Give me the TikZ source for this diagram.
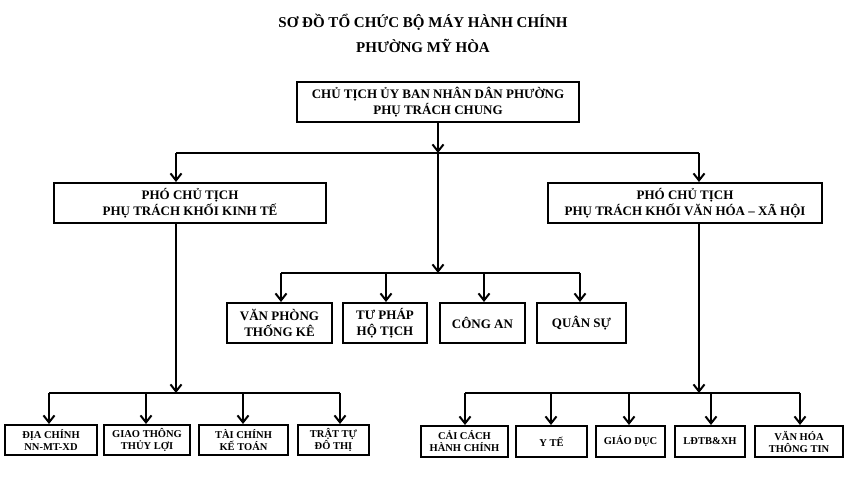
\documentclass[tikz,border=0pt]{standalone}
\usepackage{fontspec}
\setmainfont{Liberation Serif}
\usetikzlibrary{arrows.meta}
\tikzset{
  box/.style={draw, line width=2pt, inner sep=0pt, align=center, font=\bfseries\fontsize{13}{16.5}\selectfont},
  sbox/.style={draw, line width=2pt, inner sep=0pt, align=center, font=\bfseries\fontsize{10.5}{12}\selectfont},
  ttl/.style={inner sep=0pt, font=\bfseries\fontsize{15}{18}\selectfont},
  conn/.style={line width=2pt},
  arr/.style={line width=2pt, -{Straight Barb[length=7pt,width=11pt]}},
}
\begin{document}
\begin{tikzpicture}[x=1pt,y=-1pt]
\useasboundingbox (0,0) rectangle (846,488);
% titles
\node[ttl] (t1) at (423,22) {SƠ ĐỒ TỔ CHỨC BỘ MÁY HÀNH CHÍNH};
\node[ttl] (t2) at (423,46) {PHƯỜNG MỸ HÒA};
% top
\node[box, minimum width=282pt, minimum height=40pt] (top) at (438,102) {CHỦ TỊCH ỦY BAN NHÂN DÂN PHƯỜNG\\PHỤ TRÁCH CHUNG};
% vice chairs
\node[box, minimum width=272pt, minimum height=40pt] (pl) at (190,203) {PHÓ CHỦ TỊCH\\PHỤ TRÁCH KHỐI KINH TẾ};
\node[box, minimum width=274pt, minimum height=40pt] (pr) at (685,203) {PHÓ CHỦ TỊCH\\PHỤ TRÁCH KHỐI VĂN HÓA – XÃ HỘI};
% middle
\node[box, minimum width=105pt, minimum height=40pt] (m1) at (279.5,323) {VĂN PHÒNG\\THỐNG KÊ};
\node[box, minimum width=84pt, minimum height=40pt] (m2) at (385,323) {TƯ PHÁP\\HỘ TỊCH};
\node[box, minimum width=85pt, minimum height=40pt] (m3) at (482.5,323) {CÔNG AN};
\node[box, minimum width=89pt, minimum height=40pt] (m4) at (581.5,323) {QUÂN SỰ};
% bottom left
\node[sbox, minimum width=92pt, minimum height=30pt] (l1) at (51,440) {ĐỊA CHÍNH\\NN-MT-XD};
\node[sbox, minimum width=86pt, minimum height=30pt] (l2) at (147,440) {GIAO THÔNG\\THỦY LỢI};
\node[sbox, minimum width=89pt, minimum height=30pt] (l3) at (243.5,440) {TÀI CHÍNH\\KẾ TOÁN};
\node[sbox, minimum width=71pt, minimum height=30pt] (l4) at (333.5,440) {TRẬT TỰ\\ĐÔ THỊ};
% bottom right
\node[sbox, minimum width=87pt, minimum height=31pt] (r1) at (464.5,441.5) {CẢI CÁCH\\HÀNH CHÍNH};
\node[sbox, minimum width=71pt, minimum height=31pt] (r2) at (551.5,441.5) {Y TẾ};
\node[sbox, minimum width=69pt, minimum height=31pt] (r3) at (630.5,441.5) {GIÁO DỤC};
\node[sbox, minimum width=70pt, minimum height=31pt] (r4) at (710,441.5) {LĐTB\&XH};
\node[sbox, minimum width=88pt, minimum height=31pt] (r5) at (799,441.5) {VĂN HÓA\\THÔNG TIN};
% bus coordinates
\coordinate (b1c) at (top.south |- 0,153);
\coordinate (b1l) at (176,153);
\coordinate (b1r) at (699,153);
\coordinate (b2c) at (top.south |- 0,273);
\coordinate (b2l) at (281,273);
\coordinate (b2a) at (386,273);
\coordinate (b2b) at (484,273);
\coordinate (b2r) at (580,273);
\coordinate (plb) at (176,223);
\coordinate (b3c) at (176,393);
\coordinate (b3l) at (49,393);
\coordinate (b3a) at (146,393);
\coordinate (b3b) at (243,393);
\coordinate (b3r) at (340,393);
\coordinate (prb) at (699,223);
\coordinate (b4c) at (699,393);
\coordinate (b4l) at (465,393);
\coordinate (b4a) at (551,393);
\coordinate (b4b) at (629,393);
\coordinate (b4d) at (711,393);
\coordinate (b4r) at (800,393);
% top level
\draw[arr] (top.south) -- (b1c);
\draw[conn] (b1l) -- (b1r);
\draw[arr] (b1l) -- (b1l |- pl.north);
\draw[arr] (b1r) -- (b1r |- pr.north);
\draw[arr] (b1c) -- (b2c);
% middle bus
\draw[conn] (b2l) -- (b2r);
\draw[arr] (b2l) -- (b2l |- m1.north);
\draw[arr] (b2a) -- (b2a |- m2.north);
\draw[arr] (b2b) -- (b2b |- m3.north);
\draw[arr] (b2r) -- (b2r |- m4.north);
% left group
\draw[arr] (plb) -- (b3c);
\draw[conn] (b3l) -- (b3r);
\draw[arr] (b3l) -- (b3l |- l1.north);
\draw[arr] (b3a) -- (b3a |- l2.north);
\draw[arr] (b3b) -- (b3b |- l3.north);
\draw[arr] (b3r) -- (b3r |- l4.north);
% right group
\draw[arr] (prb) -- (b4c);
\draw[conn] (b4l) -- (b4r);
\draw[arr] (b4l) -- (b4l |- r1.north);
\draw[arr] (b4a) -- (b4a |- r2.north);
\draw[arr] (b4b) -- (b4b |- r3.north);
\draw[arr] (b4d) -- (b4d |- r4.north);
\draw[arr] (b4r) -- (b4r |- r5.north);
\end{tikzpicture}
\end{document}
